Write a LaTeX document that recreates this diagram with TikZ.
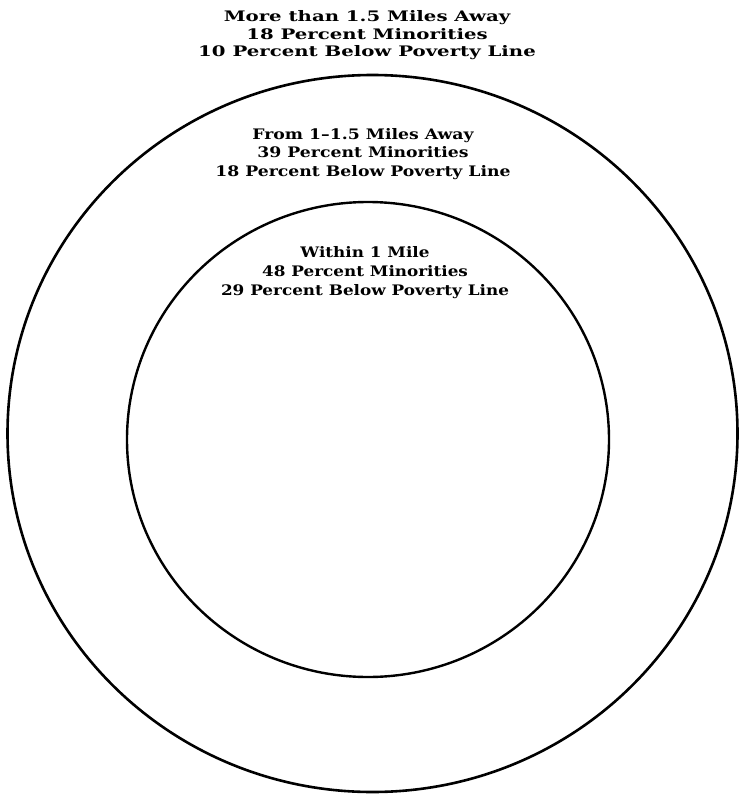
\documentclass[tikz,border=0pt]{standalone}
\usepackage{fontspec}
\setmainfont{DejaVu Serif}
\newfontfamily\farfont[Ligatures=TeX,FakeStretch=1.36]{DejaVu Serif}
\newfontfamily\midfont[Ligatures=TeX,FakeStretch=1.19]{DejaVu Serif}
\newfontfamily\nearfont[Ligatures=TeX,FakeStretch=1.16]{DejaVu Serif}
\usepackage{tikz}

\begin{document}
\begin{tikzpicture}[x=1pt,y=1pt]
\useasboundingbox (0,0) rectangle (742,-795);
% rings
\draw[line width=2.6pt] (372.5,-433.5) ellipse (365 and 358.5);
\draw[line width=2.4pt] (368,-439.5) ellipse (241 and 237.5);
% labels
\node[align=center, inner sep=0pt, font=\farfont\bfseries\fontsize{14.5}{17.5}\selectfont] (far) at (367,-35.3)
  {More than 1.5 Miles Away\\18 Percent Minorities\\10 Percent Below Poverty Line};
\node[align=center, inner sep=0pt, font=\midfont\bfseries\fontsize{14.5}{18.5}\selectfont] (mid) at (363,-153.8)
  {From 1--1.5 Miles Away\\39 Percent Minorities\\18 Percent Below Poverty Line};
\node[align=center, inner sep=0pt, font=\nearfont\bfseries\fontsize{14.5}{19}\selectfont] (near) at (365,-273)
  {Within 1 Mile\\48 Percent Minorities\\29 Percent Below Poverty Line};
\end{tikzpicture}
\end{document}
